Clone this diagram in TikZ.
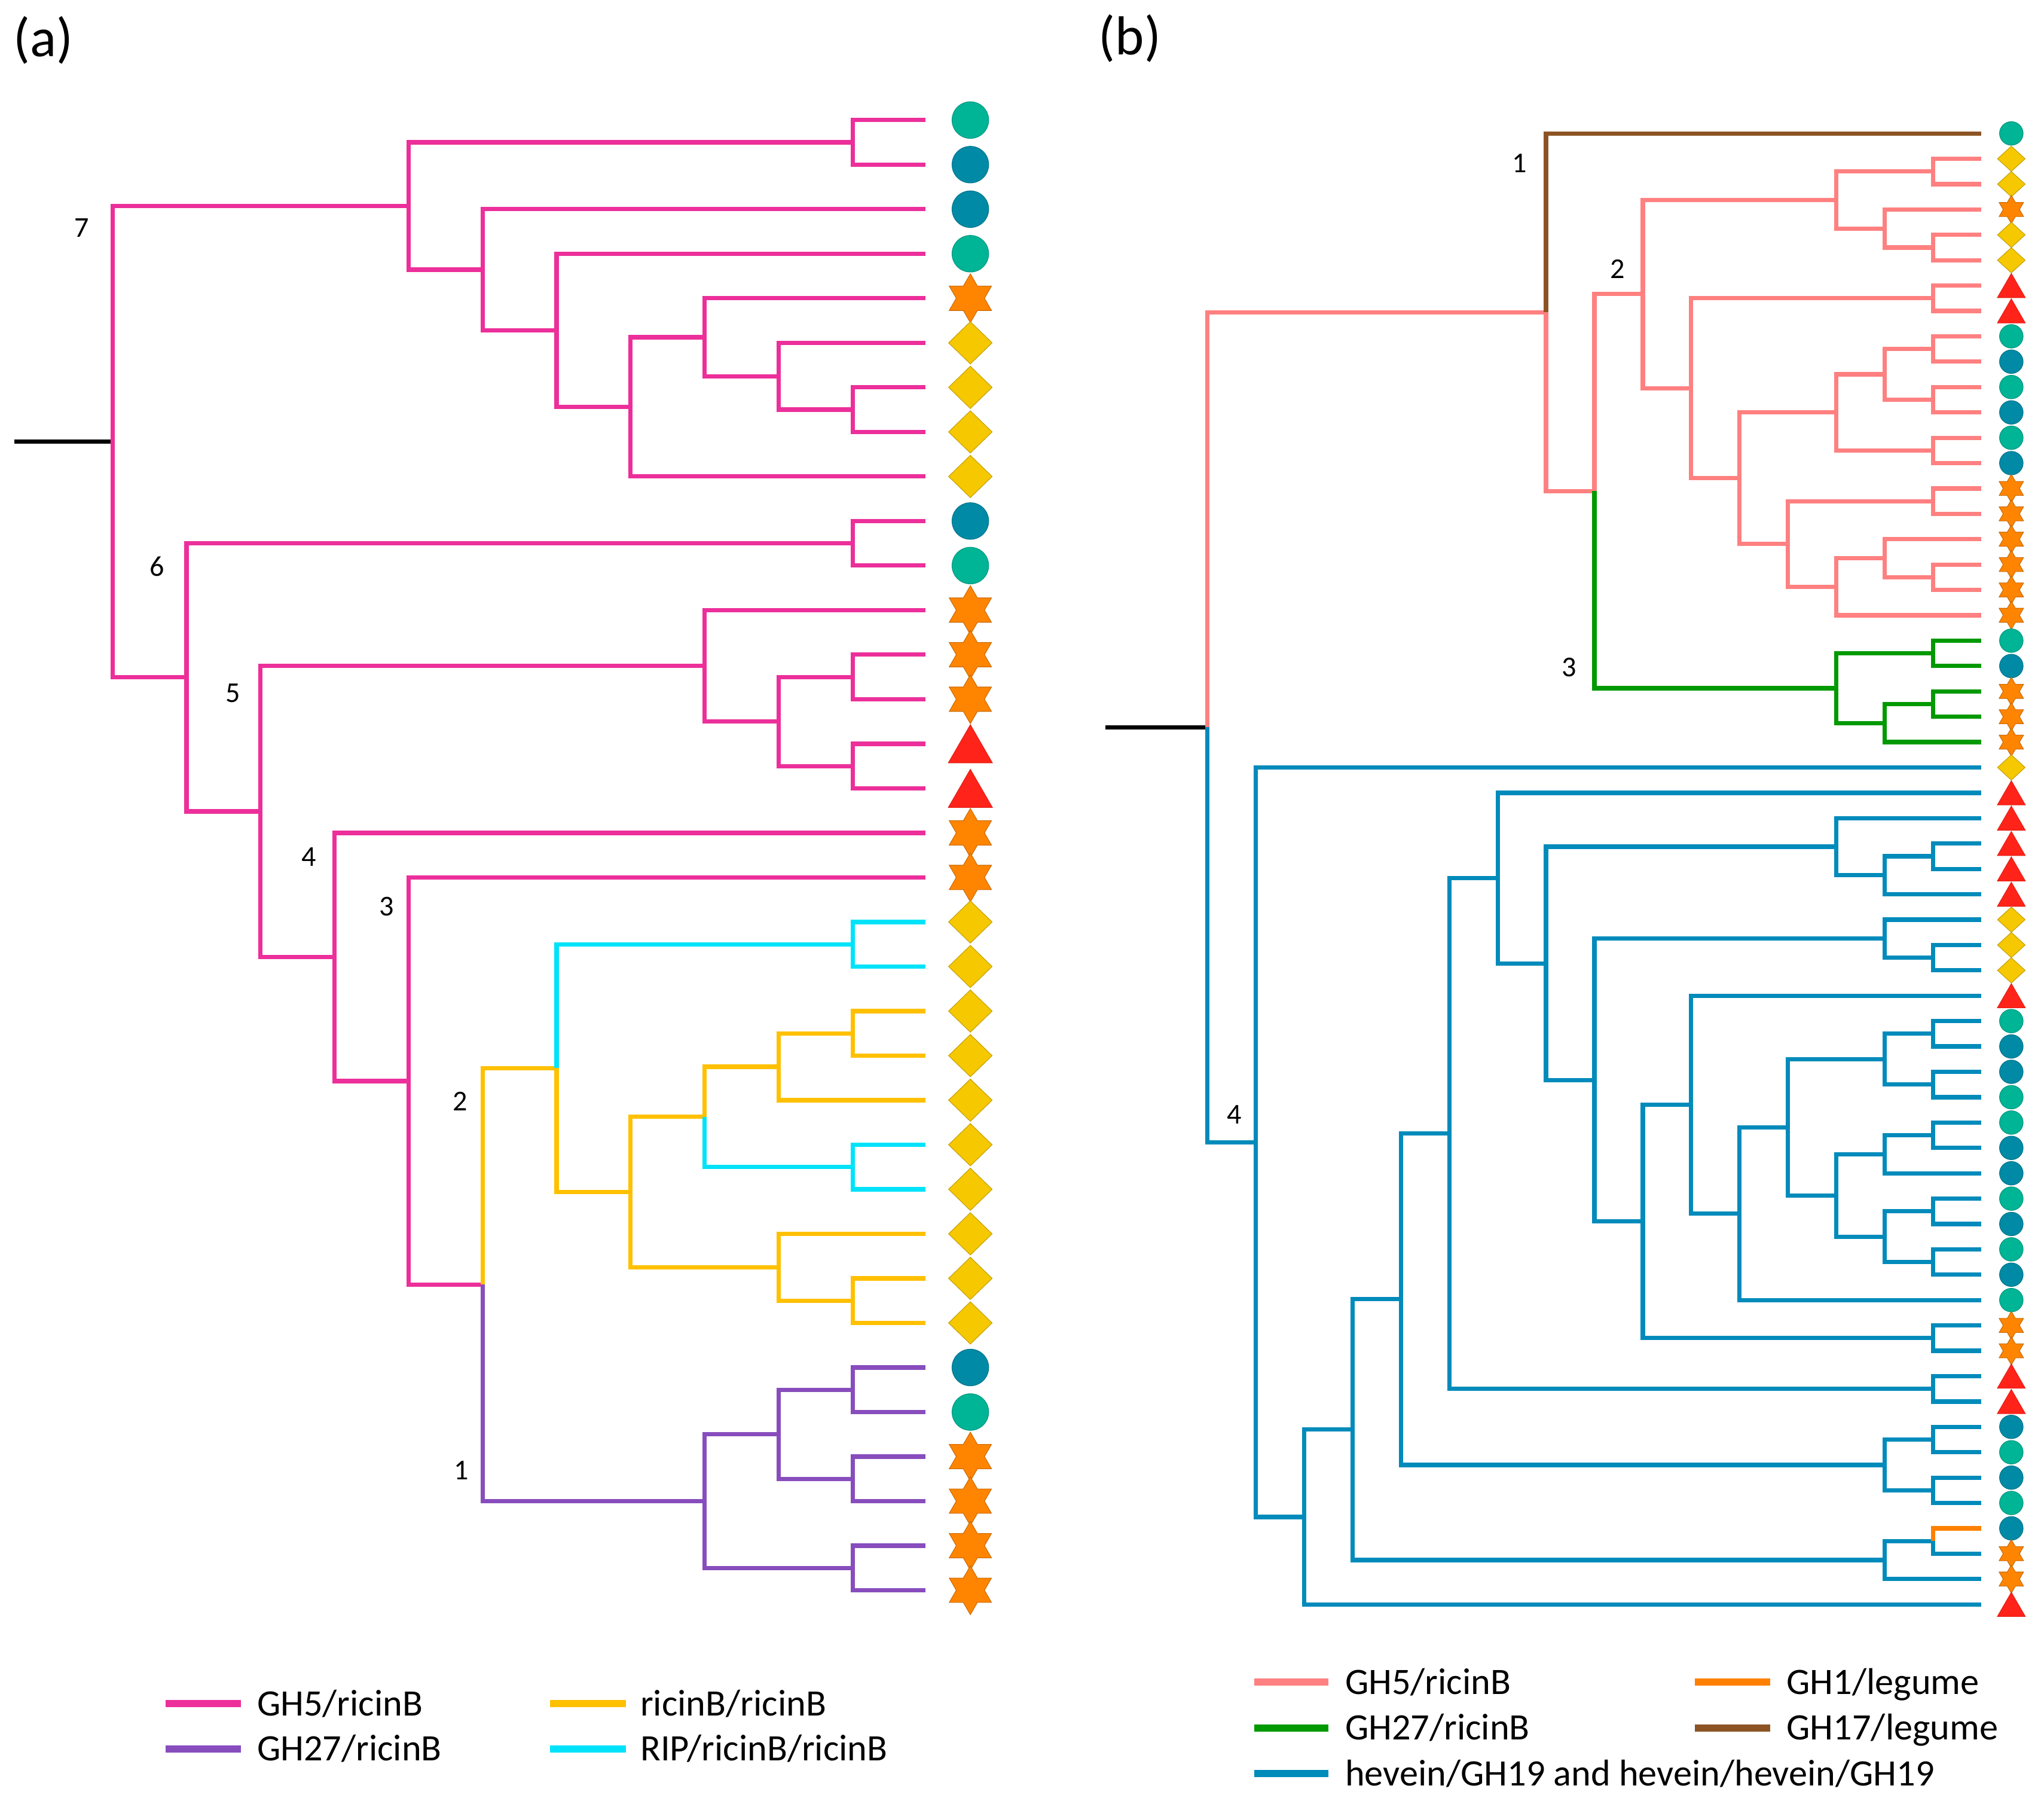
\documentclass[tikz,border=0pt]{standalone}
\usepackage{fontspec}
\setmainfont{Carlito}
\usetikzlibrary{calc,shapes.geometric}
\definecolor{cPink}{RGB}{236,47,154}
\definecolor{cPurp}{RGB}{136,77,189}
\definecolor{cYel}{RGB}{255,192,0}
\definecolor{cCyan}{RGB}{0,226,250}
\definecolor{cSalm}{RGB}{255,128,128}
\definecolor{cGrn}{RGB}{0,153,0}
\definecolor{cBlu}{RGB}{0,139,187}
\definecolor{cBrn}{RGB}{140,84,36}
\definecolor{cOrg}{RGB}{255,128,0}
\definecolor{cTeal}{RGB}{0,180,150}
\definecolor{cDkb}{RGB}{0,138,165}
\definecolor{cStar}{RGB}{255,133,0}
\definecolor{cDia}{RGB}{246,200,0}
\definecolor{cTri}{RGB}{255,35,25}
\newcommand\tn[4]{\path let \p1=($(#3)!0.5!(#4)$) in (#2pt,\y1) coordinate (#1);}
\newcommand\ed[3]{\draw[#1] (#2) |- (#3);}
\newcommand\ep[4]{\draw[#1] (#2) |- (#3) (#2) |- (#4);}
\tikzset{
  br/.style={line width=3.3pt, line join=miter},
  pk/.style={br, draw=cPink},
  pu/.style={br, draw=cPurp},
  ye/.style={br, draw=cYel},
  cy/.style={br, draw=cCyan},
  sa/.style={br, draw=cSalm},
  gr/.style={br, draw=cGrn},
  bl/.style={br, draw=cBlu},
  bn/.style={br, draw=cBrn},
  og/.style={br, draw=cOrg},
  rt/.style={br, draw=black},
  lg/.style={line width=5.5pt},
  lab/.style={inner sep=0pt, font=\fontsize{22}{26}\selectfont},
  leg/.style={inner sep=0pt, anchor=base west, font=\fontsize{28.5}{34}\selectfont},
  pan/.style={inner sep=0pt, font=\fontsize{42}{50}\selectfont},
  sym/.style={inner sep=0pt, line width=0.5pt},
  saT/.style={sym, circle, minimum size=28pt, fill=cTeal, draw=cTeal!85!black},
  saB/.style={sym, circle, minimum size=28pt, fill=cDkb, draw=cDkb!85!black},
  saD/.style={sym, diamond, minimum width=33.5pt, minimum height=32.5pt, fill=cDia, draw=cDia!80!black},
  saS/.style={sym, star, star points=6, star point ratio=1.732, minimum size=37.3pt, fill=cStar, draw=cStar!80!black},
  saR/.style={sym, regular polygon, regular polygon sides=3, minimum size=38.8pt, yshift=-4.85pt, fill=cTri, draw=cTri!90!black},
  sbT/.style={sym, circle, minimum size=18pt, fill=cTeal, draw=cTeal!85!black},
  sbB/.style={sym, circle, minimum size=18pt, fill=cDkb, draw=cDkb!85!black},
  sbD/.style={sym, diamond, minimum width=21.3pt, minimum height=19.5pt, fill=cDia, draw=cDia!80!black},
  sbS/.style={sym, star, star points=6, star point ratio=1.732, minimum size=21.5pt, fill=cStar, draw=cStar!80!black},
  sbR/.style={sym, regular polygon, regular polygon sides=3, minimum size=24.6pt, yshift=-3.07pt, fill=cTri, draw=cTri!90!black},
}
\begin{document}
\begin{tikzpicture}[x=1pt,y=-1pt]
\useasboundingbox (0,0) rectangle (1563,1381.5);
\fill[white] (0,0) rectangle (1563,1381.5);
% ---------------- panel (a) ----------------
\node[pan] (pa) at (33,30.7) {(a)};
\foreach \i in {1,...,34} \coordinate (a\i) at (707.5,{91.8+(\i-1)*34.06});
\tn{p12}{652}{a1}{a2}
\tn{p78}{652}{a7}{a8}
\tn{aG}{595.4}{a6}{p78}
\tn{aF}{538.8}{a5}{aG}
\tn{aE}{482.2}{aF}{a9}
\tn{aD}{425.6}{a4}{aE}
\tn{aC}{369}{a3}{aD}
\tn{aA}{312.4}{p12}{aC}
\tn{p1011}{652}{a10}{a11}
\tn{p1314}{652}{a13}{a14}
\tn{p1516}{652}{a15}{a16}
\tn{aI}{595.4}{p1314}{p1516}
\tn{aH}{538.8}{a12}{aI}
\tn{p1920}{652}{a19}{a20}
\tn{p2122}{652}{a21}{a22}
\tn{aU}{595.4}{p2122}{a23}
\tn{p2425}{652}{a24}{a25}
\tn{aW}{538.8}{aU}{p2425}
\tn{p2728}{652}{a27}{a28}
\tn{aV}{595.4}{a26}{p2728}
\tn{aZ}{482.2}{aW}{aV}
\tn{aY}{425.6}{p1920}{aZ}
\tn{p2930}{652}{a29}{a30}
\tn{p3132}{652}{a31}{a32}
\tn{aQ}{595.4}{p2930}{p3132}
\tn{p3334}{652}{a33}{a34}
\tn{aN1}{538.8}{aQ}{p3334}
\tn{aN2}{369}{aY}{aN1}
\tn{aN3}{312.4}{a18}{aN2}
\tn{aN4}{255.8}{a17}{aN3}
\tn{aN5}{199.2}{aH}{aN4}
\tn{aN6}{142.6}{p1011}{aN5}
\tn{aR}{86}{aA}{aN6}
\coordinate (aS) at ($(aR)+(-75,0)$);
\draw[rt] (aS) -- (aR);
% pink
\ep{pk}{aR}{aA}{aN6}
\ep{pk}{aA}{p12}{aC}
\ep{pk}{p12}{a1}{a2}
\ep{pk}{aC}{a3}{aD}
\ep{pk}{aD}{a4}{aE}
\ep{pk}{aE}{aF}{a9}
\ep{pk}{aF}{a5}{aG}
\ep{pk}{aG}{a6}{p78}
\ep{pk}{p78}{a7}{a8}
\ep{pk}{aN6}{p1011}{aN5}
\ep{pk}{p1011}{a10}{a11}
\ep{pk}{aN5}{aH}{aN4}
\ep{pk}{aH}{a12}{aI}
\ep{pk}{aI}{p1314}{p1516}
\ep{pk}{p1314}{a13}{a14}
\ep{pk}{p1516}{a15}{a16}
\ep{pk}{aN4}{a17}{aN3}
\ep{pk}{aN3}{a18}{aN2}
% yellow
\ed{ye}{aN2}{aY}
\ed{ye}{aY}{aZ}
\ep{ye}{aZ}{aW}{aV}
\ed{ye}{aW}{aU}
\ep{ye}{aU}{p2122}{a23}
\ep{ye}{p2122}{a21}{a22}
\ep{ye}{aV}{a26}{p2728}
\ep{ye}{p2728}{a27}{a28}
% cyan
\ed{cy}{aY}{p1920}
\ep{cy}{p1920}{a19}{a20}
\ed{cy}{aW}{p2425}
\ep{cy}{p2425}{a24}{a25}
% purple
\ed{pu}{aN2}{aN1}
\ep{pu}{aN1}{aQ}{p3334}
\ep{pu}{aQ}{p2930}{p3132}
\ep{pu}{p2930}{a29}{a30}
\ep{pu}{p3132}{a31}{a32}
\ep{pu}{p3334}{a33}{a34}
% symbols
\foreach \s [count=\i] in {saT,saB,saB,saT,saS,saD,saD,saD,saD,saB,saT,saS,saS,saS,saR,saR,saS,saS,saD,saD,saD,saD,saD,saD,saD,saD,saD,saD,saB,saT,saS,saS,saS,saS}
  \node[\s] (sa\i) at ($(a\i)+(34.5,0)$) {};
% labels
\node[lab] (la7) at (62.5,174) {7};
\node[lab] (la6) at (120,433) {6};
\node[lab] (la5) at (178,530) {5};
\node[lab] (la4) at (236,655) {4};
\node[lab] (la3) at (295.5,693) {3};
\node[lab] (la2) at (352,842) {2};
\node[lab] (la1) at (353,1124) {1};
% legend (a)
\coordinate (ga1) at (126.8,1302.5); \coordinate (gb1) at (184.4,1302.5);
\coordinate (ga2) at (126.8,1337); \coordinate (gb2) at (184.4,1337);
\coordinate (ga3) at (420.8,1302.5); \coordinate (gb3) at (478.5,1302.5);
\coordinate (ga4) at (420.8,1337); \coordinate (gb4) at (478.5,1337);
\draw[lg, cPink] (ga1) -- (gb1);
\draw[lg, cPurp] (ga2) -- (gb2);
\draw[lg, cYel] (ga3) -- (gb3);
\draw[lg, cCyan] (ga4) -- (gb4);
\node[leg] (ta1) at (196.4,1311.7) {GH5/ricinB};
\node[leg] (ta2) at (196.4,1346.2) {GH27/ricinB};
\node[leg] (ta3) at (489.5,1311.7) {ricinB/ricinB};
\node[leg] (ta4) at (489.5,1346.2) {RIP/ricinB/ricinB};
% ---------------- panel (b) ----------------
\node[pan] (pb) at (864,29.5) {(b)};
\foreach \i in {1,...,59} \coordinate (b\i) at (1515.2,{102+(\i-1)*19.39});
\tn{q23}{1478.2}{b2}{b3}
\tn{q56}{1478.2}{b5}{b6}
\tn{bA14}{1441.2}{b4}{q56}
\tn{bA13}{1404.2}{q23}{bA14}
\tn{q78}{1478.2}{b7}{b8}
\tn{q910}{1478.2}{b9}{b10}
\tn{q1112}{1478.2}{b11}{b12}
\tn{bB14}{1441.2}{q910}{q1112}
\tn{q1314}{1478.2}{b13}{b14}
\tn{bB13}{1404.2}{bB14}{q1314}
\tn{q1516}{1478.2}{b15}{b16}
\tn{q1819}{1478.2}{b18}{b19}
\tn{bC14}{1441.2}{b17}{q1819}
\tn{bC13}{1404.2}{bC14}{b20}
\tn{bC12}{1367.2}{q1516}{bC13}
\tn{bB11}{1330.2}{bB13}{bC12}
\tn{bB10}{1293.2}{q78}{bB11}
\tn{bN2}{1256.2}{bA13}{bB10}
\tn{q2122}{1478.2}{b21}{b22}
\tn{q2324}{1478.2}{b23}{b24}
\tn{bG14}{1441.2}{q2324}{b25}
\tn{bN3}{1404.2}{q2122}{bG14}
\tn{bT2}{1219.2}{bN2}{bN3}
\tn{bT}{1182.2}{b1}{bT2}
\tn{q2930}{1478.2}{b29}{b30}
\tn{bD14}{1441.2}{q2930}{b31}
\tn{bD13}{1404.2}{b28}{bD14}
\tn{q3334}{1478.2}{b33}{b34}
\tn{bE14}{1441.2}{b32}{q3334}
\tn{q3637}{1478.2}{b36}{b37}
\tn{q3839}{1478.2}{b38}{b39}
\tn{bF14}{1441.2}{q3637}{q3839}
\tn{q4041}{1478.2}{b40}{b41}
\tn{bH14}{1441.2}{q4041}{b42}
\tn{q4344}{1478.2}{b43}{b44}
\tn{q4546}{1478.2}{b45}{b46}
\tn{bI14}{1441.2}{q4344}{q4546}
\tn{bH13}{1404.2}{bH14}{bI14}
\tn{bF12}{1367.2}{bF14}{bH13}
\tn{bF11}{1330.2}{bF12}{b47}
\tn{bF10}{1293.2}{b35}{bF11}
\tn{q4849}{1478.2}{b48}{b49}
\tn{bF9}{1256.2}{bF10}{q4849}
\tn{bF8}{1219.2}{bE14}{bF9}
\tn{bF7}{1182.2}{bD13}{bF8}
\tn{bF6}{1145.2}{b27}{bF7}
\tn{q5051}{1478.2}{b50}{b51}
\tn{bF5}{1108.2}{bF6}{q5051}
\tn{q5253}{1478.2}{b52}{b53}
\tn{q5455}{1478.2}{b54}{b55}
\tn{bJ14}{1441.2}{q5253}{q5455}
\tn{bF4}{1071.2}{bF5}{bJ14}
\tn{q5657}{1478.2}{b56}{b57}
\tn{bK14}{1441.2}{q5657}{b58}
\tn{bF3}{1034.2}{bF4}{bK14}
\tn{bF2}{997.2}{bF3}{b59}
\tn{bF1}{960.2}{b26}{bF2}
\tn{bR}{923.2}{bT}{bF1}
\coordinate (bS) at ($(bR)+(-78,0)$);
\draw[rt] (bS) -- (bR);
% salmon
\ed{sa}{bR}{bT}
\ed{sa}{bT}{bT2}
\ed{sa}{bT2}{bN2}
\ep{sa}{bN2}{bA13}{bB10}
\ep{sa}{bA13}{q23}{bA14}
\ep{sa}{q23}{b2}{b3}
\ep{sa}{bA14}{b4}{q56}
\ep{sa}{q56}{b5}{b6}
\ep{sa}{bB10}{q78}{bB11}
\ep{sa}{q78}{b7}{b8}
\ep{sa}{bB11}{bB13}{bC12}
\ep{sa}{bB13}{bB14}{q1314}
\ep{sa}{bB14}{q910}{q1112}
\ep{sa}{q910}{b9}{b10}
\ep{sa}{q1112}{b11}{b12}
\ep{sa}{q1314}{b13}{b14}
\ep{sa}{bC12}{q1516}{bC13}
\ep{sa}{q1516}{b15}{b16}
\ep{sa}{bC13}{bC14}{b20}
\ep{sa}{bC14}{b17}{q1819}
\ep{sa}{q1819}{b18}{b19}
% brown
\ed{bn}{bT}{b1}
% green
\ed{gr}{bT2}{bN3}
\ep{gr}{bN3}{q2122}{bG14}
\ep{gr}{q2122}{b21}{b22}
\ep{gr}{bG14}{q2324}{b25}
\ep{gr}{q2324}{b23}{b24}
% blue
\ed{bl}{bR}{bF1}
\ep{bl}{bF1}{b26}{bF2}
\ep{bl}{bF2}{bF3}{b59}
\ep{bl}{bF3}{bF4}{bK14}
\ep{bl}{bK14}{q5657}{b58}
\ed{bl}{q5657}{b57}
\ed{og}{q5657}{b56}
\ep{bl}{bF4}{bF5}{bJ14}
\ep{bl}{bJ14}{q5253}{q5455}
\ep{bl}{q5253}{b52}{b53}
\ep{bl}{q5455}{b54}{b55}
\ep{bl}{bF5}{bF6}{q5051}
\ep{bl}{q5051}{b50}{b51}
\ep{bl}{bF6}{b27}{bF7}
\ep{bl}{bF7}{bD13}{bF8}
\ep{bl}{bD13}{b28}{bD14}
\ep{bl}{bD14}{q2930}{b31}
\ep{bl}{q2930}{b29}{b30}
\ep{bl}{bF8}{bE14}{bF9}
\ep{bl}{bE14}{b32}{q3334}
\ep{bl}{q3334}{b33}{b34}
\ep{bl}{bF9}{bF10}{q4849}
\ep{bl}{q4849}{b48}{b49}
\ep{bl}{bF10}{b35}{bF11}
\ep{bl}{bF11}{bF12}{b47}
\ep{bl}{bF12}{bF14}{bH13}
\ep{bl}{bF14}{q3637}{q3839}
\ep{bl}{q3637}{b36}{b37}
\ep{bl}{q3839}{b38}{b39}
\ep{bl}{bH13}{bH14}{bI14}
\ep{bl}{bH14}{q4041}{b42}
\ep{bl}{q4041}{b40}{b41}
\ep{bl}{bI14}{q4344}{q4546}
\ep{bl}{q4344}{b43}{b44}
\ep{bl}{q4546}{b45}{b46}
% symbols
\foreach \s [count=\i] in {sbT,sbD,sbD,sbS,sbD,sbD,sbR,sbR,sbT,sbB,sbT,sbB,sbT,sbB,sbS,sbS,sbS,sbS,sbS,sbS,sbT,sbB,sbS,sbS,sbS,sbD,sbR,sbR,sbR,sbR,sbR,sbD,sbD,sbD,sbR,sbT,sbB,sbB,sbT,sbT,sbB,sbB,sbT,sbB,sbT,sbB,sbT,sbS,sbS,sbR,sbR,sbB,sbT,sbB,sbT,sbB,sbS,sbS,sbR}
  \node[\s] (sb\i) at ($(b\i)+(22.8,0)$) {};
% labels
\node[lab] (lb1) at (1162,125) {1};
\node[lab] (lb2) at (1237,205.5) {2};
\node[lab] (lb3) at (1200,510) {3};
\node[lab] (lb4) at (944,852) {4};
% legend (b)
\coordinate (gc1) at (959,1286); \coordinate (gd1) at (1016,1286);
\coordinate (gc2) at (959,1321); \coordinate (gd2) at (1016,1321);
\coordinate (gc3) at (959,1356); \coordinate (gd3) at (1016,1356);
\coordinate (gc4) at (1296,1286); \coordinate (gd4) at (1353.6,1286);
\coordinate (gc5) at (1296,1321); \coordinate (gd5) at (1353.6,1321);
\draw[lg, cSalm] (gc1) -- (gd1);
\draw[lg, cGrn] (gc2) -- (gd2);
\draw[lg, cBlu] (gc3) -- (gd3);
\draw[lg, cOrg] (gc4) -- (gd4);
\draw[lg, cBrn] (gc5) -- (gd5);
\node[leg] (tb1) at (1028.4,1295.2) {GH5/ricinB};
\node[leg] (tb2) at (1028.4,1330.2) {GH27/ricinB};
\node[leg] (tb3) at (1028.4,1365.2) {hevein/GH19 and hevein/hevein/GH19};
\node[leg] (tb4) at (1366,1295.2) {GH1/legume};
\node[leg] (tb5) at (1366,1330.2) {GH17/legume};
\end{tikzpicture}
\end{document}
